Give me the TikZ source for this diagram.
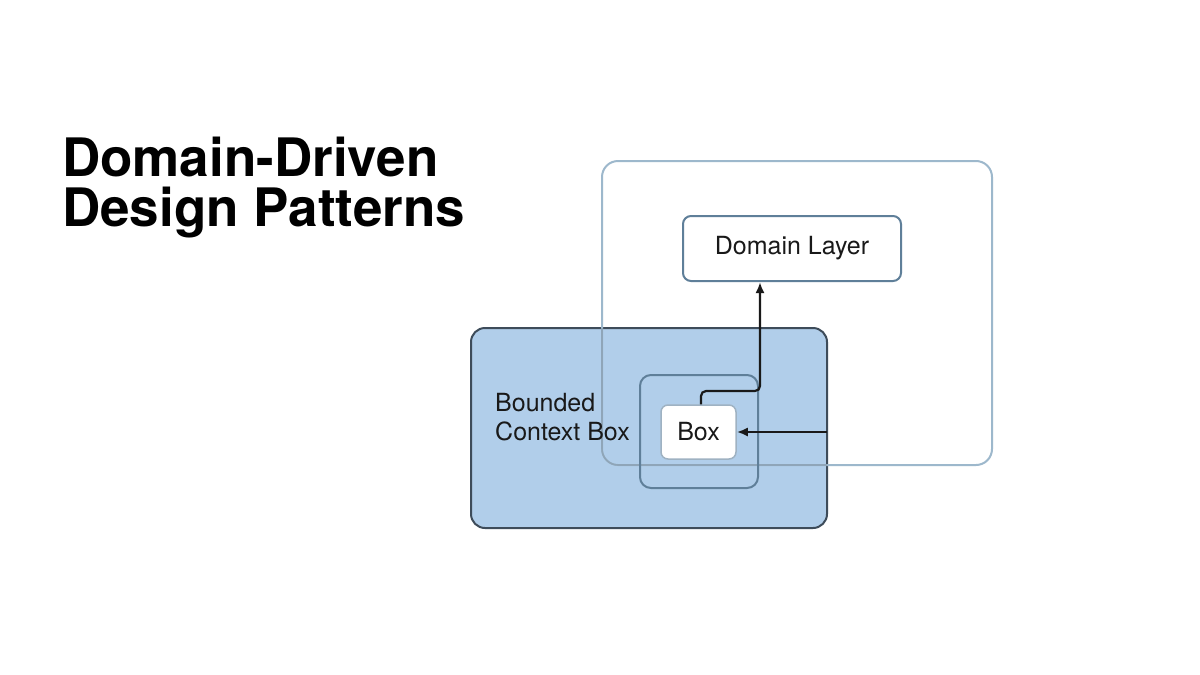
\documentclass[tikz,border=0pt]{standalone}
\usepackage{fontspec}
\setmainfont{TeX Gyre Heros}
\usetikzlibrary{arrows.meta}
\definecolor{lineblue}{HTML}{9DB8CC}
\definecolor{fillblue}{HTML}{B1CEEA}
\definecolor{darkline}{HTML}{3E4C5A}
\definecolor{midline}{HTML}{5F7F99}
\begin{document}
\begin{tikzpicture}[x=1pt,y=-1pt,
  lbl/.style={font=\fontsize{25}{29}\selectfont, text=black!90},
  arr/.style={draw=black!90, line width=2.2pt, -{Latex[length=11pt,width=9pt]}}]
\useasboundingbox[fill=white] (0,0) rectangle (1200,675);
\node[anchor=base west, font=\fontsize{53}{56}\bfseries\selectfont, inner sep=0] (t1) at (62,176) {Domain-Driven};
\node[anchor=base west, font=\fontsize{53}{56}\bfseries\selectfont, inner sep=0] (t2) at (62,226) {Design Patterns};
% blue box
\draw[fill=fillblue, draw=darkline, line width=2pt, rounded corners=14] (471,328) rectangle (827,528);
\coordinate (bbr) at (827,432);
% outer box
\draw[draw=lineblue, line width=2pt, rounded corners=16] (602,161) rectangle (992,465);
\draw[draw=midline!70, line width=1.6pt, rounded corners=16] (602,328) -- (602,465) -- (827,465);
% inner box
\draw[draw=midline, line width=2pt, rounded corners=11] (640,375) rectangle (758,488);
% domain layer
\node[draw=midline, line width=2pt, fill=white, rounded corners=8, minimum width=218, minimum height=65, lbl] (dom) at (792,248.5) {Domain Layer};
% box
\node[draw=midline!60, line width=1.5pt, fill=white, rounded corners=7, minimum width=75, minimum height=54, lbl] (box) at (698.5,432) {Box};
\node[lbl, align=left, anchor=west, inner sep=0] (bc) at (495,417) {Bounded\\Context Box};
\draw[arr] (bbr) -- (box.east);
\draw[arr, rounded corners=5] (box.north -| 701,0) -- (701,391) -- (760,391) -- (dom.south -| 760,0);
\end{tikzpicture}
\end{document}
